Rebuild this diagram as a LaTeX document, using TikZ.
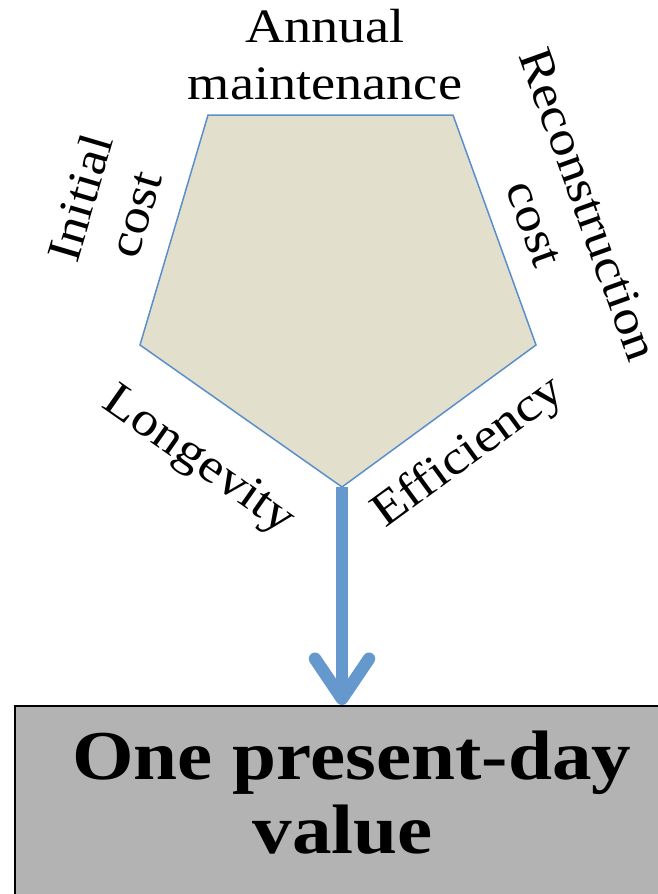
\documentclass[tikz,border=0pt]{standalone}
\usepackage{fontspec}
\setmainfont[FakeStretch=1.13]{Liberation Serif}
\usepackage{tikz}
\usetikzlibrary{positioning,arrows.meta,calc}
\usepackage{xcolor}
\definecolor{penfill}{HTML}{E2DFCC}
\definecolor{penline}{HTML}{5B8FCB}
\definecolor{flowblue}{HTML}{6598CC}
\definecolor{boxgray}{HTML}{B3B3B3}

\begin{document}
\begin{tikzpicture}[>=Stealth, x=1pt, y=-1pt,
    penta/.style={fill=penfill, draw=penline, line width=1.5pt, line join=miter},
    factor/.style={font=\fontsize{48}{57}\selectfont, align=center, inner sep=0pt},
    valuebox/.style={rectangle, fill=boxgray, draw=black, line width=1.6pt,
        minimum width=674pt, minimum height=230pt, inner sep=0pt},
    valuetext/.style={font=\fontsize{70}{74}\selectfont\bfseries, align=center, inner sep=0pt},
    flow/.style={draw=flowblue, line width=12.5pt,
        -{Straight Barb[round, length=40pt, width=54pt]}}]
    \useasboundingbox (0,0) rectangle (658,894);

    % Pentagon of cost factors
    \coordinate (ptopl) at (208,115);
    \coordinate (ptopr) at (453,115);
    \coordinate (pright) at (536,345);
    \coordinate (pbot) at (342,487);
    \coordinate (pleft) at (140,345);
    \draw[penta] (ptopl) -- (ptopr) -- (pright) -- (pbot) -- (pleft) -- cycle;

    % Factor labels round the pentagon
    \node[factor] (maint) at (325,55) {Annual\\maintenance};
    \node[factor, rotate=73.5] (initial) at (107,206) {Initial\\cost};
    \node[factor, rotate=-70.2] (recon) at (562,214) {Reconstruction\\cost};
    \node[factor, rotate=-35.1] (longev) at (198,462) {Longevity};
    \node[factor, rotate=36.2] (effic) at (469,453) {Efficiency};

    % Result box
    \node[valuebox, anchor=north west] (pvbox) at (14,705) {};
    \node[valuetext, below=26pt of pvbox.north] (pvtext) {One present-day\\value\hspace*{18pt}};

    % Arrow down to the box
    \draw[flow] (pbot) -- (pbot |- pvbox.north);
\end{tikzpicture}
\end{document}
